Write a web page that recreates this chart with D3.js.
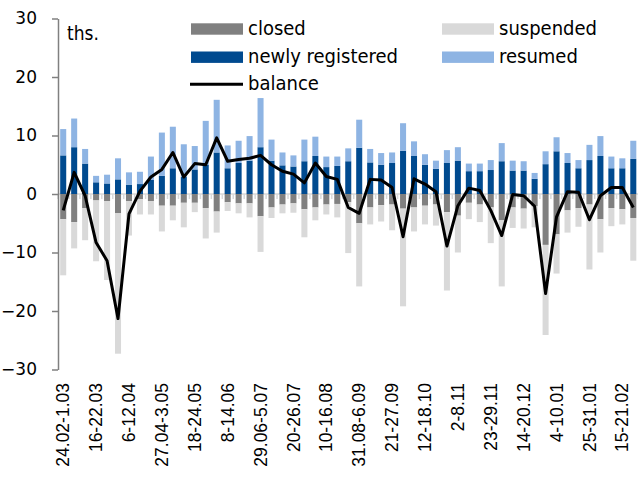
<!DOCTYPE html>
<html><head><meta charset="utf-8">
<script src="https://cdn.jsdelivr.net/npm/d3@7"></script>
<style>body{margin:0;background:#fff}svg{display:block}</style>
</head><body>
<svg id="c" width="638" height="482"></svg>
<script>
const categories = ["24.02-1.03","2-8.03","9-15.03","16-22.03","23-29.03","30.03-5.04","6-12.04","13-19.04","20-26.04","27.04-3.05","4-10.05","11-17.05","18-24.05","25-31.05","1-7.06","8-14.06","15-21.06","22-28.06","29.06-5.07","6-12.07","13-19.07","20-26.07","27.07-2.08","3-9.08","10-16.08","17-23.08","24-30.08","31.08-6.09","7-13.09","14-20.09","21-27.09","28.09-4.10","5-11.10","12-18.10","19-25.10","26.10-1.11","2-8.11","9-15.11","16-22.11","23-29.11","30.11-6.12","7-13.12","14-20.12","21-27.12","28.12-3.01","4-10.01","11-17.01","18-24.01","25-31.01","1-7.02","8-14.02","15-21.02","22-28.02"];
const newlyRegistered = [6.6,8.0,5.2,2.0,1.8,2.5,1.6,1.7,2.4,3.1,4.4,2.9,4.2,5.0,7.1,4.4,5.3,5.7,8.0,5.7,4.9,4.7,5.6,6.5,4.6,4.8,5.6,7.9,5.4,5.0,5.3,7.4,6.5,5.0,4.3,5.3,5.7,3.9,3.9,4.1,5.6,4.0,4.0,2.6,5.1,7.3,5.3,4.4,5.8,6.5,4.4,4.4,6.0];
const resumed = [4.5,4.9,2.5,1.1,1.5,3.6,2.1,2.1,4.0,7.4,7.1,5.6,4.0,7.5,9.0,3.9,3.8,4.2,8.4,3.6,2.2,1.9,3.7,3.3,1.8,1.6,2.2,4.8,2.3,2.0,1.8,4.7,2.5,1.8,1.4,2.2,2.3,1.3,1.3,1.7,3.1,1.7,1.6,1.0,2.2,2.4,1.7,1.4,2.6,3.4,2.0,1.7,3.1];
const closed = [4.3,4.8,2.4,1.1,1.2,3.3,1.2,0.9,1.2,2.0,2.0,1.5,1.5,2.4,3.0,1.4,1.6,1.6,3.8,2.3,1.8,1.6,2.6,2.3,1.8,1.7,1.4,5.0,2.3,1.9,1.8,2.5,2.3,2.0,1.8,3.1,3.7,1.5,1.8,2.3,4.5,2.3,2.5,2.1,8.7,6.9,2.8,2.4,1.8,4.3,2.4,2.6,4.1];
const suspended = [9.6,4.5,5.5,10.4,13.5,24.0,5.9,2.6,2.3,4.4,2.5,4.2,1.6,5.2,3.6,1.5,1.7,2.4,6.1,1.8,1.5,1.6,4.8,2.2,1.7,2.3,8.7,10.8,2.9,2.8,4.4,16.7,4.1,3.2,3.6,13.4,6.3,2.8,3.0,6.1,11.3,3.5,3.4,3.6,15.4,6.7,3.8,3.2,11.1,5.7,3.1,2.6,7.3];
const balance = [-2.8,3.7,-0.3,-8.3,-11.4,-21.3,-3.4,0.5,2.9,4.2,7.1,2.9,5.2,5.0,9.6,5.6,5.9,6.1,6.6,5.0,3.9,3.4,1.9,5.3,3.0,2.5,-2.3,-3.3,2.5,2.4,1.1,-7.3,2.6,1.7,0.4,-8.9,-2.0,1.0,0.6,-2.8,-7.1,-0.1,-0.3,-2.1,-17.0,-3.9,0.4,0.3,-4.4,-0.3,1.1,1.1,-2.3];
const yTicks = [-30,-20,-10,0,10,20,30];
const xTickLabels = categories.filter((d,i)=>i%3===0);
const unitLabel = "ths.";

const colors = {closed:"#808080", suspended:"#d9d9d9", newly:"#004a8f", resumed:"#8eb4e3", balance:"#000"};
const svg = d3.select("#c");
const x0 = 58, x1 = 638.5;
const x = d3.scaleBand().domain(categories).range([x0, x1]).paddingInner(0.45).paddingOuter(0.2);
const y = d3.scaleLinear().domain([-30,30]).range([369.5,18.5]);
const legendFont = "'DejaVu Sans Condensed','DejaVu Sans',sans-serif";

// zero category axis (light gray) with tick marks between categories
const y0 = y(0);
svg.append("line").attr("x1",x0).attr("x2",638).attr("y1",y0).attr("y2",y0).attr("stroke","#d9d9d9").attr("stroke-width",1.5);
const stepW = (x1-x0)/categories.length;
svg.append("g").selectAll("line").data(d3.range(categories.length+1)).join("line")
  .attr("x1",i=>x0+i*stepW).attr("x2",i=>x0+i*stepW)
  .attr("y1",y0).attr("y2",y0+5).attr("stroke","#d9d9d9").attr("stroke-width",1.5);

const bw = x.bandwidth();
const g = svg.append("g");
categories.forEach((c,i)=>{
  const xc = x(c);
  g.append("rect").attr("x",xc).attr("width",bw).attr("y",y(newlyRegistered[i])).attr("height",y0-y(newlyRegistered[i])).attr("fill",colors.newly);
  g.append("rect").attr("x",xc).attr("width",bw).attr("y",y(newlyRegistered[i]+resumed[i])).attr("height",y(newlyRegistered[i])-y(newlyRegistered[i]+resumed[i])).attr("fill",colors.resumed);
  g.append("rect").attr("x",xc).attr("width",bw).attr("y",y0).attr("height",y(-closed[i])-y0).attr("fill",colors.closed);
  g.append("rect").attr("x",xc).attr("width",bw).attr("y",y(-closed[i])).attr("height",y(-closed[i]-suspended[i])-y(-closed[i])).attr("fill",colors.suspended);
});

// y axis
const yAxis = d3.axisLeft(y).tickValues(yTicks).tickSize(6).tickSizeOuter(0).tickPadding(15);
const ya = svg.append("g").attr("transform",`translate(${x0},0)`).call(yAxis);
ya.select(".domain").attr("stroke","#808080").attr("stroke-width",1.5);
ya.selectAll(".tick line").attr("stroke","#808080").attr("stroke-width",1.5);
ya.selectAll(".tick text").attr("font-family","'DejaVu Sans',sans-serif").attr("font-size",17).attr("fill","#000");

// balance line
const line = d3.line().x((d,i)=>x(categories[i])+bw/2).y(d=>y(d));
svg.append("path").datum(balance).attr("d",line).attr("fill","none").attr("stroke",colors.balance).attr("stroke-width",3).attr("stroke-linejoin","round");

// x labels
const xAxis = d3.axisBottom(x).tickValues(xTickLabels).tickSize(0).tickSizeOuter(0);
const xa = svg.append("g").attr("transform","translate(0,383)").call(xAxis);
xa.select(".domain").remove();
xa.selectAll(".tick text").attr("font-family","'Liberation Sans',Arial,sans-serif").attr("font-size",17.5).attr("fill","#000")
  .attr("text-anchor","end").attr("transform","rotate(-90)").attr("x",0).attr("y",0).attr("dy","0.35em");

// unit label
svg.append("text").attr("x",67).attr("y",40).attr("font-family",legendFont).attr("font-size",19).text(unitLabel);

// legend
const legendItems = [
  {name:"closed", color:colors.closed, type:"rect", lx:191, ly:23.3},
  {name:"suspended", color:colors.suspended, type:"rect", lx:442, ly:23.3},
  {name:"newly registered", color:colors.newly, type:"rect", lx:191, ly:51.5},
  {name:"resumed", color:colors.resumed, type:"rect", lx:442, ly:51.5},
  {name:"balance", color:colors.balance, type:"line", lx:190, ly:78.5}
];
const lg = svg.append("g");
legendItems.forEach(it=>{
  if(it.type==="rect") lg.append("rect").attr("x",it.lx).attr("y",it.ly).attr("width",52).attr("height",11.4).attr("fill",it.color);
  else lg.append("line").attr("x1",it.lx).attr("x2",it.lx+53).attr("y1",it.ly+5.7).attr("y2",it.ly+5.7).attr("stroke",it.color).attr("stroke-width",3);
  lg.append("text").attr("x",(it.type==="rect"?it.lx:it.lx+1)+57).attr("y",it.ly+11.8).attr("font-family",legendFont).attr("font-size",20).attr("fill","#000").text(it.name);
});
</script>
</body></html>
